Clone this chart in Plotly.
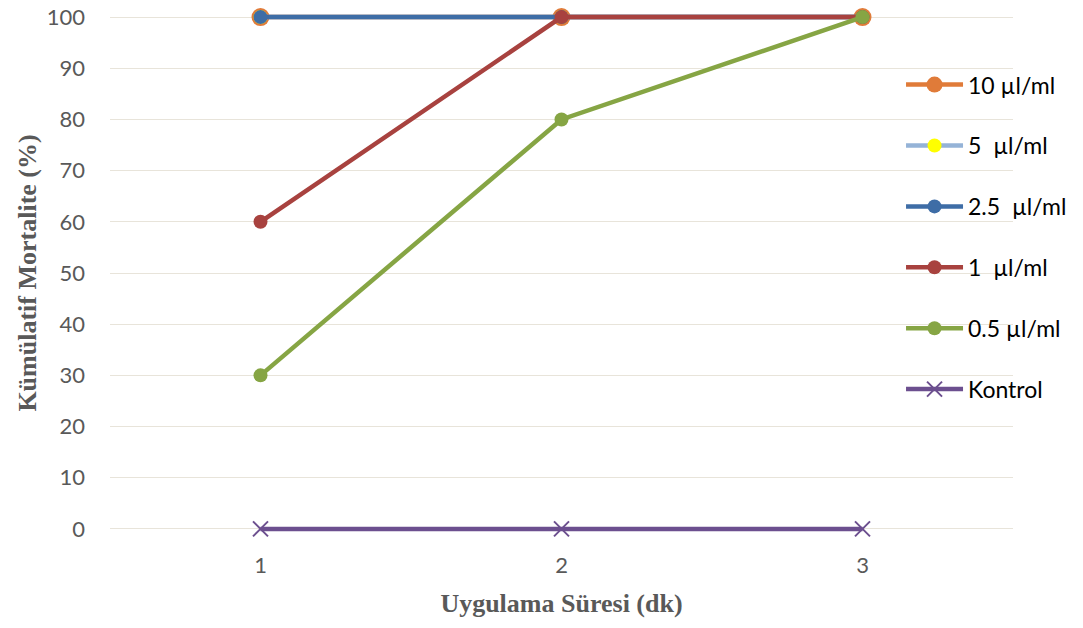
import plotly.graph_objects as go

x_vals = [1, 2, 3]
tick_labels = ["1", "2", "3"]
y_10 = [100, 100, 100]
y_5 = [100, 100, 100]
y_25 = [100, 100, 100]
y_1 = [60, 100, 100]
y_05 = [30, 80, 100]
y_kontrol = [0, 0, 0]

series = [
    ("10 µl/ml", y_10, "#E07B39", "#E07B39", 18, "circle"),
    ("5  µl/ml", y_5, "#95B3D7", "#FFFF00", 14, "circle"),
    ("2.5  µl/ml", y_25, "#3E6DA6", "#3E6DA6", 14, "circle"),
    ("1  µl/ml", y_1, "#A8423F", "#A8423F", 14, "circle"),
    ("0.5 µl/ml", y_05, "#86A544", "#86A544", 14, "circle"),
    ("Kontrol", y_kontrol, "#6C4F8F", "#6C4F8F", 15, "x-thin"),
]

fig = go.Figure()
for i, (name, ys, lc, mc, ms, sym) in enumerate(series):
    marker = dict(color=mc, size=ms, symbol=sym)
    if sym == "x-thin":
        marker["line"] = dict(color=mc, width=2)
    fig.add_trace(go.Scatter(
        x=x_vals, y=ys, name=name, mode="lines+markers",
        line=dict(color=lc, width=4.5), marker=marker,
        cliponaxis=False, legendgroup=f"g{i}",
    ))

fig.update_layout(
    width=1083, height=628,
    margin=dict(l=110, r=70, t=12, b=94, autoexpand=False),
    plot_bgcolor="white", paper_bgcolor="white",
    showlegend=True,
    legend=dict(x=0.876, y=0.902, xanchor="left", yanchor="top",
                font=dict(family="Lato, Liberation Sans, sans-serif", size=23, color="#000000"),
                bgcolor="rgba(0,0,0,0)", tracegroupgap=28, itemwidth=57),
    font=dict(family="Lato, Liberation Sans, sans-serif"),
)
fig.update_xaxes(
    range=[0.5, 3.5], tickvals=x_vals, ticktext=tick_labels,
    showgrid=False, zeroline=False, showline=False, ticks="", automargin=False,
    tickfont=dict(size=22, color="#595959"), ticklabelstandoff=16,
    title=dict(text="Uygulama Süresi (dk)",
               font=dict(family="Liberation Serif, Times New Roman, serif", size=26, color="#595959", weight="bold"),
               standoff=16),
)
fig.update_yaxes(
    range=[-1, 101], tick0=0, dtick=10, showgrid=True, gridcolor="#E8E4DA", gridwidth=1.3,
    zeroline=False, showline=False, ticks="", automargin=False,
    tickfont=dict(size=22, color="#595959"), ticklabelstandoff=24,
    title=dict(text="Kümülatif Mortalite (%)",
               font=dict(family="Liberation Serif, Times New Roman, serif", size=26, color="#595959", weight="bold"),
               standoff=2),
)

fig.write_html("out.html")
